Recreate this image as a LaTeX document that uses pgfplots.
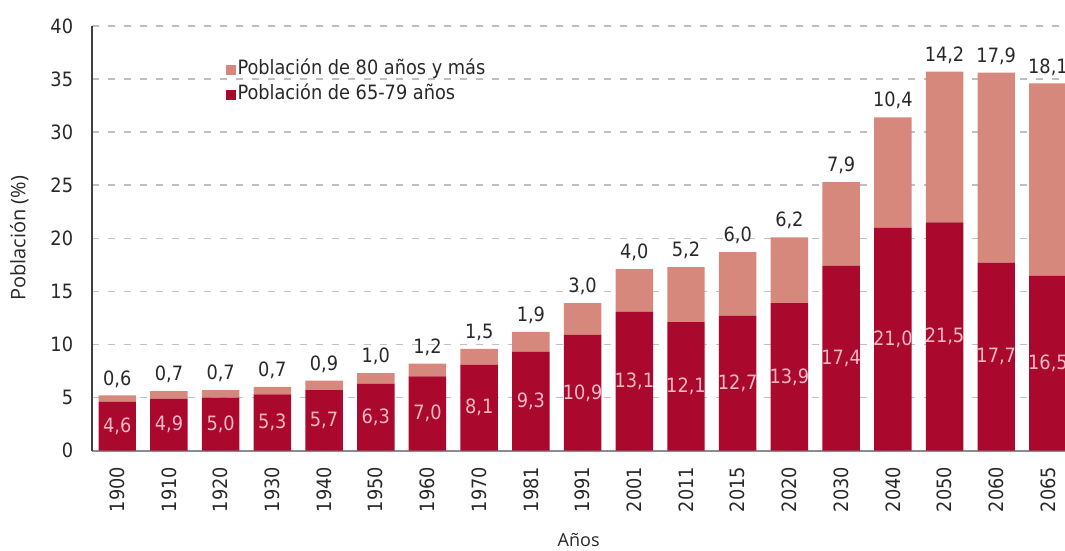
\documentclass[border=0pt]{standalone}
\usepackage{pgfplots}
\pgfplotsset{compat=1.18}
\usepackage{pgfplotstable}
\usepackage{fontspec}
\setmainfont{DejaVu Sans Condensed}
\newfontfamily\labfont{Open Sans}
\definecolor{darkred}{RGB}{170,8,44}
\definecolor{salmon}{RGB}{214,136,124}
\definecolor{inlab}{RGB}{245,185,195}
\definecolor{txt}{RGB}{40,40,40}
\newcommand{\tfont}{\fontsize{14.8}{17}\selectfont}

\pgfplotstableread{
x year a b
0 1900 4.6 0.6
1 1910 4.9 0.7
2 1920 5.0 0.7
3 1930 5.3 0.7
4 1940 5.7 0.9
5 1950 6.3 1.0
6 1960 7.0 1.2
7 1970 8.1 1.5
8 1981 9.3 1.9
9 1991 10.9 3.0
10 2001 13.1 4.0
11 2011 12.1 5.2
12 2015 12.7 6.0
13 2020 13.9 6.2
14 2030 17.4 7.9
15 2040 21.0 10.4
16 2050 21.5 14.2
17 2060 17.7 17.9
18 2065 16.5 18.1
}\data

\begin{document}
\begin{tikzpicture}
\useasboundingbox (-69.2pt,-75.2pt) rectangle (729.5pt,338pt);
\begin{axis}[
  at={(0,0)}, anchor=south west,
  scale only axis, width=729.5pt, height=318.5pt,
  ybar stacked, bar width=28.1pt,
  xmin=-0.483, xmax=18.33, ymin=0, ymax=40,
  ytick={0,5,...,40},
  xtick={0,...,18},
  xticklabels from table={\data}{year},
  major tick length=0pt,
  axis x line*=bottom, axis y line*=left,
  x axis line style={black!45, line width=1.5pt},
  y axis line style={black!75, line width=1.5pt},
  ymajorgrids,
  grid style={black!25, dash pattern=on 5pt off 7pt, line width=1.2pt},
  /pgf/number format/assume math mode=true,
  xticklabel style={rotate=90, anchor=east, inner sep=0pt, font=\tfont, text=txt},
  xticklabel shift=12pt,
  yticklabel style={anchor=east, inner sep=0pt, font=\tfont, text=txt},
  yticklabel shift=14.2pt,
  ylabel={Población (\%)},
  ylabel style={at={(axis description cs:-0.075,0.5)}, anchor=center, font=\labfont\fontsize{15}{17}\selectfont, text=txt},
  xlabel={Años},
  xlabel style={at={(axis description cs:0.5,-0.21)}, anchor=center, font=\labfont\fontsize{13.5}{16}\selectfont, text=txt},
  legend style={draw=none, fill=none, at={(axis description cs:0.1377,0.867)}, anchor=west,
    inner sep=0pt, outer sep=0pt, row sep=4.25pt, font=\tfont,
    nodes={inner xsep=1.5pt, inner ysep=0pt, text height=11pt, text depth=3.5pt, text=txt}},
  legend cell align=left,
  reverse legend,
  legend image code/.code={\fill[#1] (0pt,-3.6pt) rectangle (7pt,3.6pt);},
]
\addplot[fill=darkred, draw=none, point meta=explicit symbolic,
  nodes near coords={\pgfmathprintnumber[fixed,fixed zerofill,precision=1,use comma]{\pgfplotspointmeta}},
  every node near coord/.append style={anchor=center, text=inlab, font=\tfont}]
  table[x=x, y=a, meta=a]{\data};
\addlegendentry{Población de 65-79 años}
\addplot[fill=salmon, draw=none, point meta=explicit symbolic,
  nodes near coords={\pgfmathprintnumber[fixed,fixed zerofill,precision=1,use comma]{\pgfplotspointmeta}},
  every node near coord/.append style={anchor=south, yshift=\pgfplotspointmeta*3.981pt+2.5pt, text=txt, font=\tfont}]
  table[x=x, y=b, meta=b]{\data};
\addlegendentry{Población de 80 años y más}
\end{axis}
\end{tikzpicture}
\end{document}
